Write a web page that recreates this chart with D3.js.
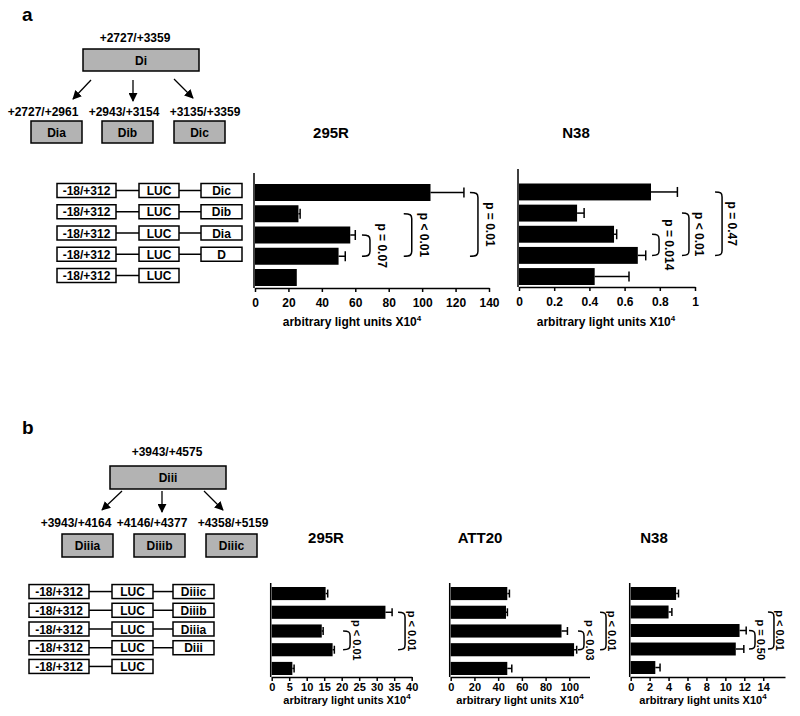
<!DOCTYPE html>
<html>
<head>
<meta charset="utf-8">
<script src="https://cdn.jsdelivr.net/npm/d3@7"></script>
<style>
  body { margin: 0; background: #fff; }
  svg text { font-family: 'Liberation Sans', Arial, sans-serif; font-weight: bold; fill: #000; }
</style>
</head>
<body>
<script>
// ---- data ----
// rows are top to bottom: construct with third element, last row LUC only
var rowsA = ['Dic', 'Dib', 'Dia', 'D', ''];
var rowsB = ['Diiic', 'Diiib', 'Diiia', 'Diii', ''];
var promoterLabel = '-18/+312';
var lucLabel = 'LUC';

var parentA = 'Di', parentRangeA = '+2727/+3359';
var childrenA = ['Dia', 'Dib', 'Dic'];
var childRangesA = ['+2727/+2961', '+2943/+3154', '+3135/+3359'];
var parentB = 'Diii', parentRangeB = '+3943/+4575';
var childrenB = ['Diiia', 'Diiib', 'Diiic'];
var childRangesB = ['+3943/+4164', '+4146/+4377', '+4358/+5159'];

// panel a
var a295R = [105, 26, 57, 50, 25];
var a295RErr = [20, 1, 3, 4, 0];
var a295RTicks = [0, 20, 40, 60, 80, 100, 120, 140];
var aN38 = [0.75, 0.33, 0.54, 0.675, 0.43];
var aN38Err = [0.15, 0.04, 0.015, 0.045, 0.195];
var aN38Ticks = [0, 0.2, 0.4, 0.6, 0.8, 1];

// panel b
var b295R = [15.4, 32.5, 14.3, 17.4, 5.9];
var b295RErr = [0.6, 1.9, 0.4, 0.5, 0.5];
var b295RTicks = [0, 5, 10, 15, 20, 25, 30, 35, 40];
var bATT20 = [47.7, 46.6, 93.4, 104, 47.7];
var bATT20Err = [1.8, 1.2, 5, 2.2, 3.8];
var bATT20Ticks = [0, 20, 40, 60, 80, 100];
var bN38 = [4.8, 4.0, 11.5, 11.1, 2.6];
var bN38Err = [0.25, 0.35, 0.7, 0.85, 0.5];
var bN38Ticks = [0, 2, 4, 6, 8, 10, 12, 14];

// significance brackets: bar index from/to, x position in data units
var a295RBrackets = [{from: 2, to: 3, at: 64, label: 'p = 0.07'},
                     {from: 1, to: 3, at: 89, label: 'p < 0.01'},
                     {from: 0, to: 3, at: 128.6, label: 'p = 0.01'}];
var aN38Brackets = [{from: 2, to: 3, at: 0.756, label: 'p = 0.014'},
                    {from: 1, to: 3, at: 0.926, label: 'p < 0.01'},
                    {from: 0, to: 3, at: 1.114, label: 'p = 0.47'}];
var b295RBrackets = [{from: 2, to: 3, at: 20.4, label: 'p < 0.01'},
                     {from: 1, to: 3, at: 36.1, label: 'p < 0.01'}];
var bATT20Brackets = [{from: 2, to: 3, at: 107.3, label: 'p < 0.03'},
                      {from: 1, to: 3, at: 125.9, label: 'p < 0.01'}];
var bN38Brackets = [{from: 2, to: 3, at: 12.5, label: 'p = 0.50'},
                    {from: 1, to: 3, at: 14.5, label: 'p < 0.01'}];

var svg = d3.select('body').append('svg')
  .attr('width', 800)
  .attr('height', 716);

svg.append('defs').append('marker')
  .attr('id', 'arrow')
  .attr('viewBox', '0 0 10 10')
  .attr('refX', 9).attr('refY', 5)
  .attr('markerWidth', 9).attr('markerHeight', 9)
  .attr('markerUnits', 'userSpaceOnUse')
  .attr('orient', 'auto')
  .append('path')
  .attr('d', 'M0,0 L10,5 L0,10 Z')
  .attr('fill', '#000');

// panel letters
svg.append('text').attr('x', 22).attr('y', 21).style('font-size', '19px').text('a');
svg.append('text').attr('x', 22).attr('y', 434).style('font-size', '19px').text('b');

// deletion map (grey boxes with arrows)
function drawMap(p) {
  var g = svg.append('g');
  g.append('text')
    .attr('x', p.rangeX).attr('y', p.rangeY)
    .attr('text-anchor', 'middle').style('font-size', '12px')
    .text(p.parentRange);
  g.append('rect')
    .attr('x', p.box[0]).attr('y', p.box[1])
    .attr('width', p.box[2]).attr('height', p.box[3])
    .attr('fill', '#b3b3b3').attr('stroke', '#000').attr('stroke-width', 1.5);
  g.append('text')
    .attr('x', p.box[0] + p.box[2] / 2).attr('y', p.box[1] + p.box[3] / 2 + 4.5)
    .attr('text-anchor', 'middle').style('font-size', '12px')
    .text(p.parent);

  p.arrows.forEach(function(a) {
    g.append('line')
      .attr('x1', a[0]).attr('y1', a[1]).attr('x2', a[2]).attr('y2', a[3])
      .attr('stroke', '#000').attr('stroke-width', 1.3)
      .attr('marker-end', 'url(#arrow)');
  });

  p.children.forEach(function(name, i) {
    g.append('text')
      .attr('x', p.childLabelX[i]).attr('y', p.childLabelY)
      .attr('text-anchor', 'middle').style('font-size', '12px')
      .text(p.childRanges[i]);
    g.append('rect')
      .attr('x', p.childX[i]).attr('y', p.childY)
      .attr('width', p.childW).attr('height', p.childH)
      .attr('fill', '#b3b3b3').attr('stroke', '#000').attr('stroke-width', 1.5);
    g.append('text')
      .attr('x', p.childX[i] + p.childW / 2).attr('y', p.childY + p.childH / 2 + 4.5)
      .attr('text-anchor', 'middle').style('font-size', '12px')
      .text(name);
  });
}

drawMap({
  parent: parentA, parentRange: parentRangeA, children: childrenA, childRanges: childRangesA,
  rangeX: 135, rangeY: 42, box: [83, 49, 116, 22],
  arrows: [[91, 80, 73, 99], [133, 80, 133, 101], [174, 79, 193, 98]],
  childLabelX: [43, 124, 205], childLabelY: 116,
  childX: [31, 102, 174], childY: 121, childW: 51, childH: 22
});

drawMap({
  parent: parentB, parentRange: parentRangeB, children: childrenB, childRanges: childRangesB,
  rangeX: 167, rangeY: 456, box: [110, 466, 116, 23],
  arrows: [[122, 491, 102, 510], [162, 491, 162, 512], [204, 491, 223, 510]],
  childLabelX: [76, 152, 233], childLabelY: 527,
  childX: [62, 134, 206], childY: 534, childW: 51, childH: 23
});

// construct rows (promoter - LUC - fragment)
function drawConstructs(rows, y, xs) {
  var g = svg.append('g');
  rows.forEach(function(name, i) {
    var cy = y(i) + y.bandwidth() / 2 - 2;
    var h = 14;
    var boxes = [[xs[0], xs[1], promoterLabel], [xs[2], xs[3], lucLabel]];
    if (name) boxes.push([xs[4], xs[5], name]);
    for (var k = 0; k < boxes.length - 1; k++) {
      g.append('line')
        .attr('x1', boxes[k][1]).attr('x2', boxes[k + 1][0])
        .attr('y1', cy).attr('y2', cy)
        .attr('stroke', '#000').attr('stroke-width', 1.5);
    }
    boxes.forEach(function(b) {
      g.append('rect')
        .attr('x', b[0]).attr('y', cy - h / 2)
        .attr('width', b[1] - b[0]).attr('height', h)
        .attr('fill', '#fff').attr('stroke', '#000').attr('stroke-width', 1.5);
      g.append('text')
        .attr('x', (b[0] + b[1]) / 2).attr('y', cy + 4.5)
        .attr('text-anchor', 'middle').style('font-size', '12px')
        .text(b[2]);
    });
  });
}

// horizontal bar chart with error bars and brackets
function barChart(c) {
  var x = d3.scaleLinear().domain(c.domain).range(c.range);
  var y = d3.scaleBand().domain(d3.range(c.values.length))
    .range(c.band).paddingInner(c.pad).paddingOuter(0);
  var g = svg.append('g');

  g.append('text')
    .attr('x', c.titleX).attr('y', c.titleY)
    .attr('text-anchor', 'middle').style('font-size', '15px')
    .text(c.title);

  g.selectAll('.bar')
    .data(c.values)
    .enter().append('rect')
    .attr('class', 'bar')
    .attr('x', x(0))
    .attr('y', function(d, i) { return y(i); })
    .attr('width', function(d) { return x(d) - x(0); })
    .attr('height', y.bandwidth())
    .attr('fill', '#000');

  // error bars (upper side only)
  c.values.forEach(function(d, i) {
    if (!c.errors[i]) return;
    var cy = y(i) + y.bandwidth() / 2;
    g.append('line')
      .attr('x1', x(d)).attr('x2', x(d + c.errors[i]))
      .attr('y1', cy).attr('y2', cy)
      .attr('stroke', '#000').attr('stroke-width', 1.5);
    g.append('line')
      .attr('x1', x(d + c.errors[i])).attr('x2', x(d + c.errors[i]))
      .attr('y1', cy - c.cap).attr('y2', cy + c.cap)
      .attr('stroke', '#000').attr('stroke-width', 1.5);
  });

  // y axis: a plain line
  g.append('line')
    .attr('x1', x(0) - 1).attr('x2', x(0) - 1)
    .attr('y1', c.axisTop).attr('y2', c.axisY)
    .attr('stroke', '#000').attr('stroke-width', 1.5);

  var axis = g.append('g')
    .attr('transform', 'translate(0,' + c.axisY + ')')
    .call(d3.axisBottom(x)
      .tickValues(c.ticks)
      .tickSize(4)
      .tickSizeOuter(0)
      .tickPadding(c.tickPad)
      .tickFormat(d3.format('~g')));
  axis.select('.domain').attr('stroke-width', 1.5);
  axis.selectAll('.tick line').attr('stroke-width', 1.5);
  axis.selectAll('text')
    .style('font-size', c.font + 'px')
    .style('font-family', "'Liberation Sans', Arial, sans-serif")
    .style('font-weight', 'bold');

  var lab = g.append('text')
    .attr('x', c.labelX).attr('y', c.labelY)
    .attr('text-anchor', 'middle').style('font-size', c.font + 'px');
  lab.append('tspan').text('arbitrary light units X10');
  lab.append('tspan').attr('dy', -5).style('font-size', '8px').text('4');

  // significance brackets
  c.brackets.forEach(function(b) {
    var bx = x(b.at), w = c.bracketW;
    var y0 = y(b.from) + y.bandwidth() / 2;
    var y1 = y(b.to) + y.bandwidth() / 2;
    var r = 5;
    g.append('path')
      .attr('d', 'M' + bx + ',' + y0 +
        ' C' + (bx + w * 0.8) + ',' + y0 + ' ' + (bx + w) + ',' + (y0 + 1) + ' ' + (bx + w) + ',' + (y0 + r) +
        ' L' + (bx + w) + ',' + (y1 - r) +
        ' C' + (bx + w) + ',' + (y1 - 1) + ' ' + (bx + w * 0.8) + ',' + y1 + ' ' + bx + ',' + y1)
      .attr('fill', 'none').attr('stroke', '#000').attr('stroke-width', 1.5);
    var lx = bx + c.labelOffset, ly = (y0 + y1) / 2;
    g.append('text')
      .attr('transform', 'translate(' + lx + ',' + ly + ') rotate(90)')
      .attr('text-anchor', 'middle')
      .attr('dominant-baseline', 'central')
      .style('font-size', c.font + 'px')
      .text(b.label);
  });

  return y;
}

// panel a charts
var yA = barChart({
  title: '295R', titleX: 331, titleY: 138, font: 12,
  values: a295R, errors: a295RErr, ticks: a295RTicks,
  domain: [0, 140], range: [255, 489], band: [184, 286], pad: 0.2,
  axisTop: 173, axisY: 288, tickPad: 6, cap: 5,
  labelX: 352, labelY: 326,
  brackets: a295RBrackets, bracketW: 8, labelOffset: 20
});
barChart({
  title: 'N38', titleX: 576, titleY: 138, font: 12,
  values: aN38, errors: aN38Err, ticks: aN38Ticks,
  domain: [0, 1], range: [519, 695], band: [183.5, 285], pad: 0.2,
  axisTop: 169, axisY: 287, tickPad: 6, cap: 5,
  labelX: 606, labelY: 326,
  brackets: aN38Brackets, bracketW: 7, labelOffset: 17
});
drawConstructs(rowsA, yA, [57, 116, 139, 179, 201, 242]);

// panel b charts
var yB = barChart({
  title: '295R', titleX: 326, titleY: 543, font: 11,
  values: b295R, errors: b295RErr, ticks: b295RTicks,
  domain: [0, 40], range: [271.7, 411.7], band: [587, 675], pad: 0.3,
  axisTop: 583, axisY: 677, tickPad: 2, cap: 4,
  labelX: 347, labelY: 704,
  brackets: b295RBrackets, bracketW: 7, labelOffset: 14
});
barChart({
  title: 'ATT20', titleX: 480, titleY: 543, font: 11,
  values: bATT20, errors: bATT20Err, ticks: bATT20Ticks,
  domain: [0, 117], range: [450.7, 589.5], band: [587, 675], pad: 0.3,
  axisTop: 583, axisY: 677, tickPad: 2, cap: 4,
  labelX: 520, labelY: 704,
  brackets: bATT20Brackets, bracketW: 6, labelOffset: 12
});
barChart({
  title: 'N38', titleX: 654, titleY: 543, font: 11,
  values: bN38, errors: bN38Err, ticks: bN38Ticks,
  domain: [0, 16.3], range: [630.7, 785], band: [587, 674], pad: 0.3,
  axisTop: 583, axisY: 677, tickPad: 2, cap: 4,
  labelX: 703, labelY: 704,
  brackets: bN38Brackets, bracketW: 6, labelOffset: 12
});
drawConstructs(rowsB, yB, [29, 89, 112, 153, 173, 214]);
</script>
</body>
</html>
